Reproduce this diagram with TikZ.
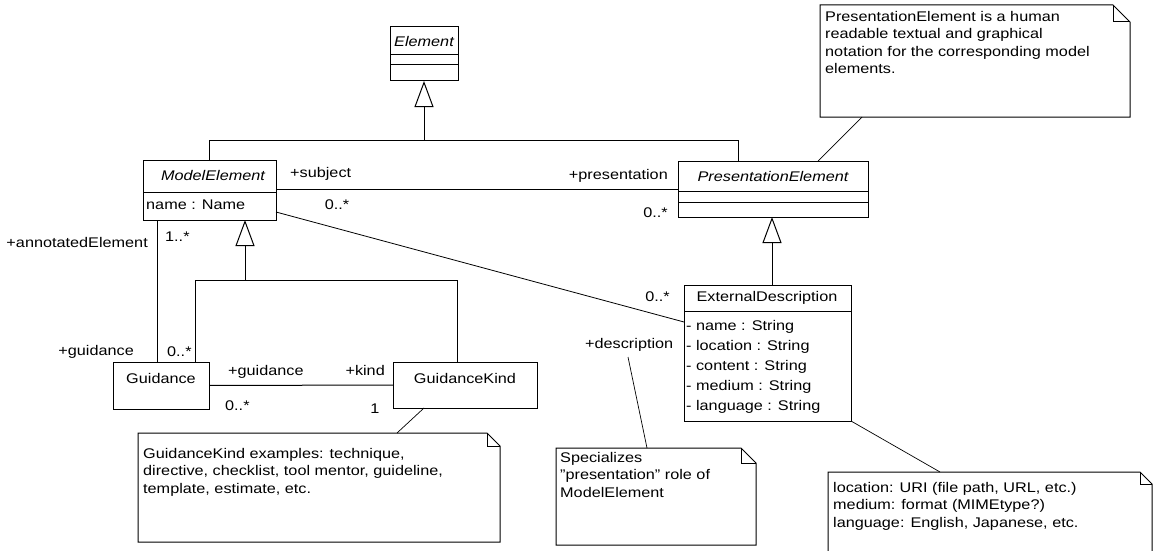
\documentclass[tikz,border=0pt]{standalone}
\usepackage{fontspec}
\setmainfont{Liberation Sans}[FakeStretch=1.16]
\usetikzlibrary{arrows.meta}
\tikzset{
  box/.style={draw, line width=1pt, inner sep=0pt, outer sep=0pt, anchor=north west},
  divl/.style={line width=1pt},
  conn/.style={line width=1pt},
  gen/.style={line width=1pt, -{Triangle[open, length=26pt, width=19pt]}},
  lbl/.style={inner sep=0pt, font=\fontsize{14}{17}\selectfont},
  notebg/.style={inner sep=0pt, outer sep=0pt, anchor=north west},
  noteline/.style={line width=1pt},
  notetext/.style={inner sep=0pt, anchor=north west, align=left, font=\fontsize{14}{17.5}\selectfont},
}
\begin{document}
\begin{tikzpicture}[x=1pt, y=-1pt]
\useasboundingbox (0,0) rectangle (1157,551);
\clip (0,0) rectangle (1157,551);
\fill[white] (0,0) rectangle (1157,551);

% ---- Element
\node[box, minimum width=68pt, minimum height=54pt] (E) at (390,27) {};
\draw[divl] (390,55) -- (458,55);
\draw[divl] (390,65) -- (458,65);
\node[lbl, font=\fontsize{14}{17}\selectfont\itshape] (Et) at (424,41) {Element};

% ---- ModelElement
\node[box, minimum width=133pt, minimum height=60pt] (ME) at (143,160) {};
\draw[divl] (143,192) -- (276,192);
\node[lbl, font=\fontsize{14}{17}\selectfont\itshape] (MEt) at (213,175) {ModelElement};
\node[lbl, anchor=west] (MEa) at (146,205) {name : Name};

% ---- PresentationElement
\node[box, minimum width=190pt, minimum height=56pt] (PE) at (678,161) {};
\draw[divl] (678,191) -- (868,191);
\draw[divl] (678,202) -- (868,202);
\node[lbl, font=\fontsize{14}{17}\selectfont\itshape] (PEt) at (773,176) {PresentationElement};

% ---- Guidance
\node[box, minimum width=96pt, minimum height=47pt] (G) at (113,362) {};
\node[lbl] (Gt) at (161,378) {Guidance};

% ---- GuidanceKind
\node[box, minimum width=144pt, minimum height=46pt] (GK) at (393,362) {};
\node[lbl] (GKt) at (465,378) {GuidanceKind};

% ---- ExternalDescription
\node[box, minimum width=167pt, minimum height=136pt] (ED) at (684,285) {};
\draw[divl] (684,311) -- (851,311);
\node[lbl] (EDt) at (767,298) {ExternalDescription};
\node[lbl, anchor=west] (ED1) at (686,327) {- name : String};
\node[lbl, anchor=west] (ED2) at (686,347) {- location : String};
\node[lbl, anchor=west] (ED3) at (686,367) {- content : String};
\node[lbl, anchor=west] (ED4) at (686,387) {- medium : String};
\node[lbl, anchor=west] (ED5) at (686,407) {- language : String};

% ---- generalizations
\path (E.south) ++(0,59) coordinate (jE);
\coordinate (pex) at (738,150);
\draw[gen] (ME.north) |- (jE) -- (E.south);
\draw[conn] (PE.north -| pex) |- (jE);

\coordinate (jM) at (245,280);
\coordinate (gx) at (195,300);
\coordinate (gkx) at (457,300);
\draw[gen] (jM) -- (ME.south -| jM);
\draw[conn] (G.north -| gx) |- (jM);
\draw[conn] (GK.north -| gkx) |- (jM);

\coordinate (edx) at (772,250);
\draw[gen] (ED.north -| edx) -- (PE.south -| edx);

% ---- associations
\draw[conn] (ME.east |- PE.west) -- (PE.west);
\coordinate (ax) at (157,300);
\draw[conn] (ME.south -| ax) -- (G.north -| ax);
\draw[conn] (G.east) -- (GK.west);
\draw[conn, line width=0.8pt] ([yshift=-22pt]ME.east) -- ([yshift=31pt]ED.west);

% ---- role labels / multiplicities
\node[lbl, anchor=west] (r1) at (290,174) {+subject};
\node[lbl] (m1) at (337,205) {0..*};
\node[lbl, anchor=east] (r2) at (668,176) {+presentation};
\node[lbl, anchor=east] (m2) at (668,213) {0..*};
\node[lbl, anchor=east] (r3) at (148,242) {+annotatedElement};
\node[lbl, anchor=west] (m3) at (165,237) {1..*};
\node[lbl, anchor=east] (r4) at (134,352) {+guidance};
\node[lbl, anchor=west] (m4) at (167,352) {0..*};
\node[lbl, anchor=west] (r5) at (228,372) {+guidance};
\node[lbl, anchor=west] (m5) at (225,406) {0..*};
\node[lbl, anchor=east] (r6) at (385,370) {+kind};
\node[lbl] (m6) at (375,409) {1};
\node[lbl, anchor=east] (m7) at (670,297) {0..*};
\node[lbl, anchor=west] (r7) at (585,345) {+description};

% ---- note 1 (top right)
\node[notebg, minimum width=310pt, minimum height=112pt] (N1) at (820,5) {};
\draw[noteline] (N1.north west) -- ([xshift=-17pt]N1.north east) -- ([yshift=-17pt]N1.north east) -- (N1.south east) -- (N1.south west) -- cycle;
\draw[noteline] ([xshift=-17pt]N1.north east) |- ([yshift=-17pt]N1.north east);
\node[notetext] (N1t) at (825,11) {PresentationElement is a human\\readable textual and graphical\\notation for the corresponding model\\elements.};
\coordinate (n1a) at (862,200);
\coordinate (n1b) at (818,200);
\draw[conn, line width=0.7pt] (N1.south -| n1a) -- (PE.north -| n1b);

% ---- note 2 (GuidanceKind)
\node[notebg, minimum width=362pt, minimum height=109pt] (N2) at (138,433) {};
\draw[noteline] (N2.north west) -- ([xshift=-13pt]N2.north east) -- ([yshift=-13pt]N2.north east) -- (N2.south east) -- (N2.south west) -- cycle;
\draw[noteline] ([xshift=-13pt]N2.north east) |- ([yshift=-13pt]N2.north east);
\node[notetext] (N2t) at (143,448) {GuidanceKind examples: technique,\\directive, checklist, tool mentor, guideline,\\template, estimate, etc.};
\coordinate (n2a) at (397,420);
\coordinate (n2b) at (424,420);
\draw[conn, line width=0.7pt] (N2.north -| n2a) -- (GK.south -| n2b);

% ---- note 3 (Specializes)
\node[notebg, minimum width=200pt, minimum height=97pt] (N3) at (556,448) {};
\draw[noteline] (N3.north west) -- ([xshift=-15pt]N3.north east) -- ([yshift=-15pt]N3.north east) -- (N3.south east) -- (N3.south west) -- cycle;
\draw[noteline] ([xshift=-15pt]N3.north east) |- ([yshift=-15pt]N3.north east);
\node[notetext] (N3t) at (560,452) {Specializes\\"presentation" role of\\ModelElement};
\coordinate (n3a) at (628,357);
\coordinate (n3b) at (647,440);
\draw[conn, line width=0.7pt] (n3a) -- (N3.north -| n3b);

% ---- note 4 (ExternalDescription)
\node[notebg, minimum width=324pt, minimum height=100pt] (N4) at (828,472) {};
\draw[noteline] (N4.north west) -- ([xshift=-12pt]N4.north east) -- ([yshift=-12pt]N4.north east) -- (N4.south east) -- (N4.south west) -- cycle;
\draw[noteline] ([xshift=-12pt]N4.north east) |- ([yshift=-12pt]N4.north east);
\node[notetext] (N4t) at (833,482) {location: URI (file path, URL, etc.)\\medium: format (MIMEtype?)\\language: English, Japanese, etc.};
\coordinate (n4a) at (940,460);
\draw[conn, line width=0.7pt] (ED.south east) -- (N4.north -| n4a);
\end{tikzpicture}
\end{document}
